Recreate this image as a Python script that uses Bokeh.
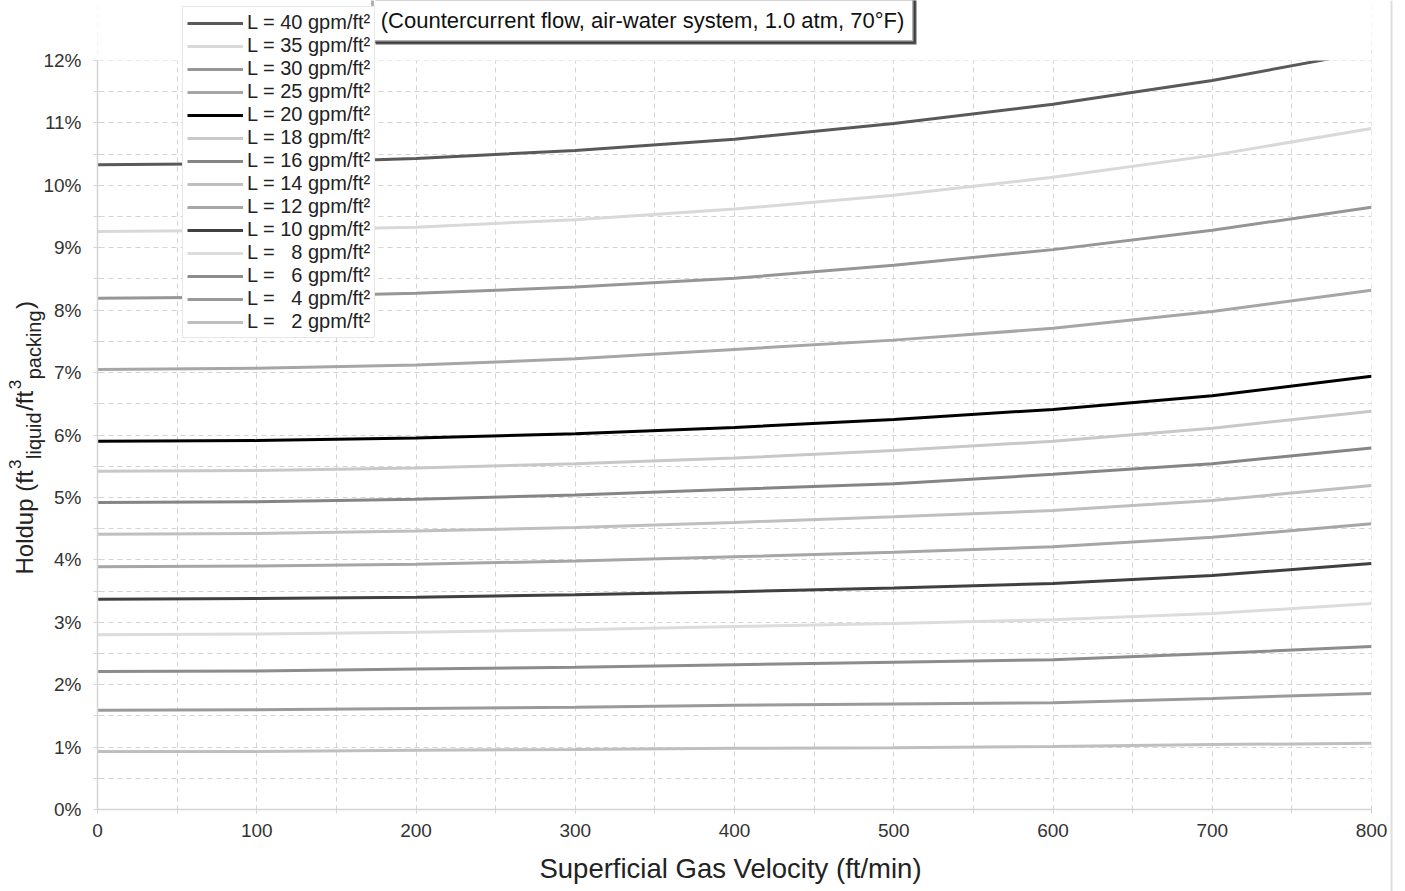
import math
from bokeh.plotting import figure
from bokeh.models import (Range1d, SingleIntervalTicker, PrintfTickFormatter,
                          Legend, LegendItem, Label, BoxAnnotation, Span)
from bokeh.embed import file_html
from bokeh.resources import INLINE

# ---------------- data ----------------
velocity = [0, 100, 200, 300, 400, 500, 600, 700, 800]  # ft/min

L40 = [10.33, 10.35, 10.43, 10.56, 10.74, 10.99, 11.30, 11.68, 12.15]
L35 = [9.26, 9.28, 9.33, 9.45, 9.62, 9.84, 10.13, 10.48, 10.91]
L30 = [8.19, 8.21, 8.27, 8.37, 8.51, 8.72, 8.97, 9.28, 9.65]
L25 = [7.05, 7.07, 7.12, 7.22, 7.37, 7.52, 7.71, 7.98, 8.32]
L20 = [5.90, 5.91, 5.95, 6.02, 6.12, 6.25, 6.41, 6.63, 6.94]
L18 = [5.42, 5.43, 5.47, 5.54, 5.63, 5.75, 5.90, 6.11, 6.38]
L16 = [4.92, 4.93, 4.97, 5.04, 5.13, 5.22, 5.37, 5.54, 5.79]
L14 = [4.41, 4.42, 4.46, 4.52, 4.60, 4.69, 4.79, 4.95, 5.19]
L12 = [3.89, 3.90, 3.93, 3.98, 4.05, 4.12, 4.21, 4.36, 4.58]
L10 = [3.37, 3.38, 3.40, 3.44, 3.49, 3.55, 3.62, 3.75, 3.94]
L8 = [2.80, 2.81, 2.84, 2.88, 2.93, 2.98, 3.04, 3.14, 3.30]
L6 = [2.21, 2.22, 2.25, 2.28, 2.32, 2.36, 2.40, 2.50, 2.61]
L4 = [1.59, 1.60, 1.62, 1.64, 1.67, 1.69, 1.71, 1.78, 1.86]
L2 = [0.93, 0.93, 0.95, 0.96, 0.98, 0.99, 1.01, 1.04, 1.06]

series = [L40, L35, L30, L25, L20, L18, L16, L14, L12, L10, L8, L6, L4, L2]
series_labels = [
    "L = 40 gpm/ft²", "L = 35 gpm/ft²", "L = 30 gpm/ft²", "L = 25 gpm/ft²",
    "L = 20 gpm/ft²", "L = 18 gpm/ft²", "L = 16 gpm/ft²", "L = 14 gpm/ft²",
    "L = 12 gpm/ft²", "L = 10 gpm/ft²", "L = \u20078 gpm/ft²", "L = \u20076 gpm/ft²",
    "L = \u20074 gpm/ft²", "L = \u20072 gpm/ft²",
]
colors = ["#595959", "#d9d9d9", "#969696", "#a6a6a6", "#000000", "#c8c8c8",
          "#858585", "#bfbfbf", "#a6a6a6", "#404040", "#dcdcdc", "#8c8c8c",
          "#9a9a9a", "#bfbfbf"]

subtitle = "(Countercurrent flow, air-water system, 1.0 atm, 70°F)"
x_title = "Superficial Gas Velocity (ft/min)"
y_title_parts = ["Holdup (ft", "3", "liquid", "/ft", "3", "packing", ")"]

X_MIN, X_MAX, Y_MIN, Y_MAX = 0, 800, 0, 12

FONT = "Liberation Sans"

# ---------------- layout ----------------
# plot area in page pixels: x 97..1371, y 60..809.  The frame covers the whole
# page so legend, title box and axis texts can sit around the plot area.
W, H = 1405, 891
AX_L, AX_R, AX_T, AX_B = 97, 1371, 60, 809
sx = (X_MAX - X_MIN) / (AX_R - AX_L)
sy = (Y_MAX - Y_MIN) / (AX_B - AX_T)


def px2x(px):
    return X_MIN + (px - AX_L) * sx


def py2y(py):
    return Y_MIN + (AX_B - py) * sy


p = figure(frame_width=W, frame_height=H,
           x_range=Range1d(px2x(0), px2x(W)), y_range=Range1d(py2y(H), py2y(0)),
           min_border=0, output_backend="svg", toolbar_location=None,
           background_fill_color="white", border_fill_color="white")
p.outline_line_color = None

# grids
p.xgrid.ticker = SingleIntervalTicker(interval=50)
p.ygrid.ticker = SingleIntervalTicker(interval=0.5)
p.xgrid.bounds = (X_MIN, X_MAX)
p.ygrid.bounds = (Y_MIN, Y_MAX)
for g in (p.xgrid, p.ygrid):
    g.grid_line_color = "#d4d4d4"
    g.grid_line_dash = "5 4"
    g.grid_line_width = 1

# axes (drawn at the plot-area edges)
p.xaxis.ticker = SingleIntervalTicker(interval=100, num_minor_ticks=2)
p.yaxis.ticker = SingleIntervalTicker(interval=1, num_minor_ticks=2)
p.yaxis.formatter = PrintfTickFormatter(format="%d%%")
p.xaxis.bounds = (X_MIN, X_MAX)
p.yaxis.bounds = (Y_MIN, Y_MAX)
p.xaxis.fixed_location = Y_MIN
p.yaxis.fixed_location = X_MIN
for ax in (p.xaxis, p.yaxis):
    ax.axis_line_color = "#d4d4d4"
    ax.axis_line_width = 1.5
    ax.major_tick_line_color = "#d4d4d4"
    ax.minor_tick_line_color = "#d4d4d4"
    ax.major_tick_in = 4
    ax.major_tick_out = 4
    ax.minor_tick_in = 4
    ax.minor_tick_out = 4
    ax.major_label_text_font = FONT
    ax.major_label_text_font_size = "19px"
    ax.major_label_text_color = "#333333"
p.xaxis.major_label_standoff = 10
p.yaxis.major_label_standoff = 12

# white margins outside the plot area (hide grid lines there), under the axes
for kw in (dict(right=X_MIN), dict(left=X_MAX), dict(top=Y_MIN)):
    p.add_layout(BoxAnnotation(fill_color="white", fill_alpha=1,
                               line_color=None, level="glyph", **kw))

# page edge line at the right
p.add_layout(Span(location=px2x(1391), dimension="height",
                  line_color="#dedede", line_width=2))

# lines
renderers = []
for ys, c in zip(series, colors):
    r = p.line(velocity, ys, line_color=c, line_width=3)
    renderers.append(r)

# white margin above the plot area (curves are cut at the top of the axis)
p.add_layout(BoxAnnotation(bottom=Y_MAX, left=X_MIN, right=X_MAX,
                           fill_color="white", fill_alpha=1, line_color=None))

# x axis title
p.add_layout(Label(x=px2x(730), y=py2y(868), text=x_title, text_font=FONT,
                   text_font_size="27.5px", text_color="#222222",
                   text_align="center", text_baseline="middle"))

# y axis title built from pieces (super/subscripts)
main_fs, sub_fs, sup_fs = 24, 20, 17
kinds = ["m", "sup", "sub", "m", "sup", "sub", "m"]
widths_em = [4.335, 0.556, 2.334, 0.834, 0.556, 3.446, 0.333]
gaps = [1.5, 0.5, 1.5, 1.5, 0.5, 1.5, 0]
pos = 574.0
for txt, k, wem, gap in zip(y_title_parts, kinds, widths_em, gaps):
    fs = main_fs if k == "m" else (sub_fs if k == "sub" else sup_fs)
    cx = 24 if k == "m" else (33 if k == "sub" else 14)
    p.add_layout(Label(x=px2x(cx), y=py2y(pos), text=txt, angle=math.pi / 2,
                       text_font=FONT, text_font_size=f"{fs}px",
                       text_color="#222222", text_align="left",
                       text_baseline="middle"))
    pos -= wem * fs + gap

# title box (its top line lies above the page)
p.add_layout(BoxAnnotation(left=px2x(375), right=px2x(916), bottom=py2y(44),
                           top=py2y(-20), fill_color="#555555", fill_alpha=1,
                           line_color=None))
p.add_layout(BoxAnnotation(left=px2x(372), right=px2x(913), bottom=py2y(41),
                           top=py2y(-20), fill_color="white", fill_alpha=1,
                           line_color="black", line_width=3))
p.add_layout(Label(x=px2x(642), y=py2y(20), text=subtitle,
                   text_font=FONT, text_font_size="22px", text_color="#111111",
                   text_align="center", text_baseline="middle"))

# legend
items = [LegendItem(label=lab, renderers=[r]) for lab, r in zip(series_labels, renderers)]
legend = Legend(items=items, location=(182, H - 338), orientation="vertical",
                label_text_font=FONT, label_text_font_size="20px",
                label_text_color="#222222", label_height=20, glyph_height=20,
                glyph_width=56, label_standoff=4, spacing=0, padding=4, margin=0,
                border_line_color="#d0d0d0", border_line_width=1,
                background_fill_color="white", background_fill_alpha=1.0)
p.add_layout(legend, "center")

open("out.html", "w").write(file_html(p, INLINE))
